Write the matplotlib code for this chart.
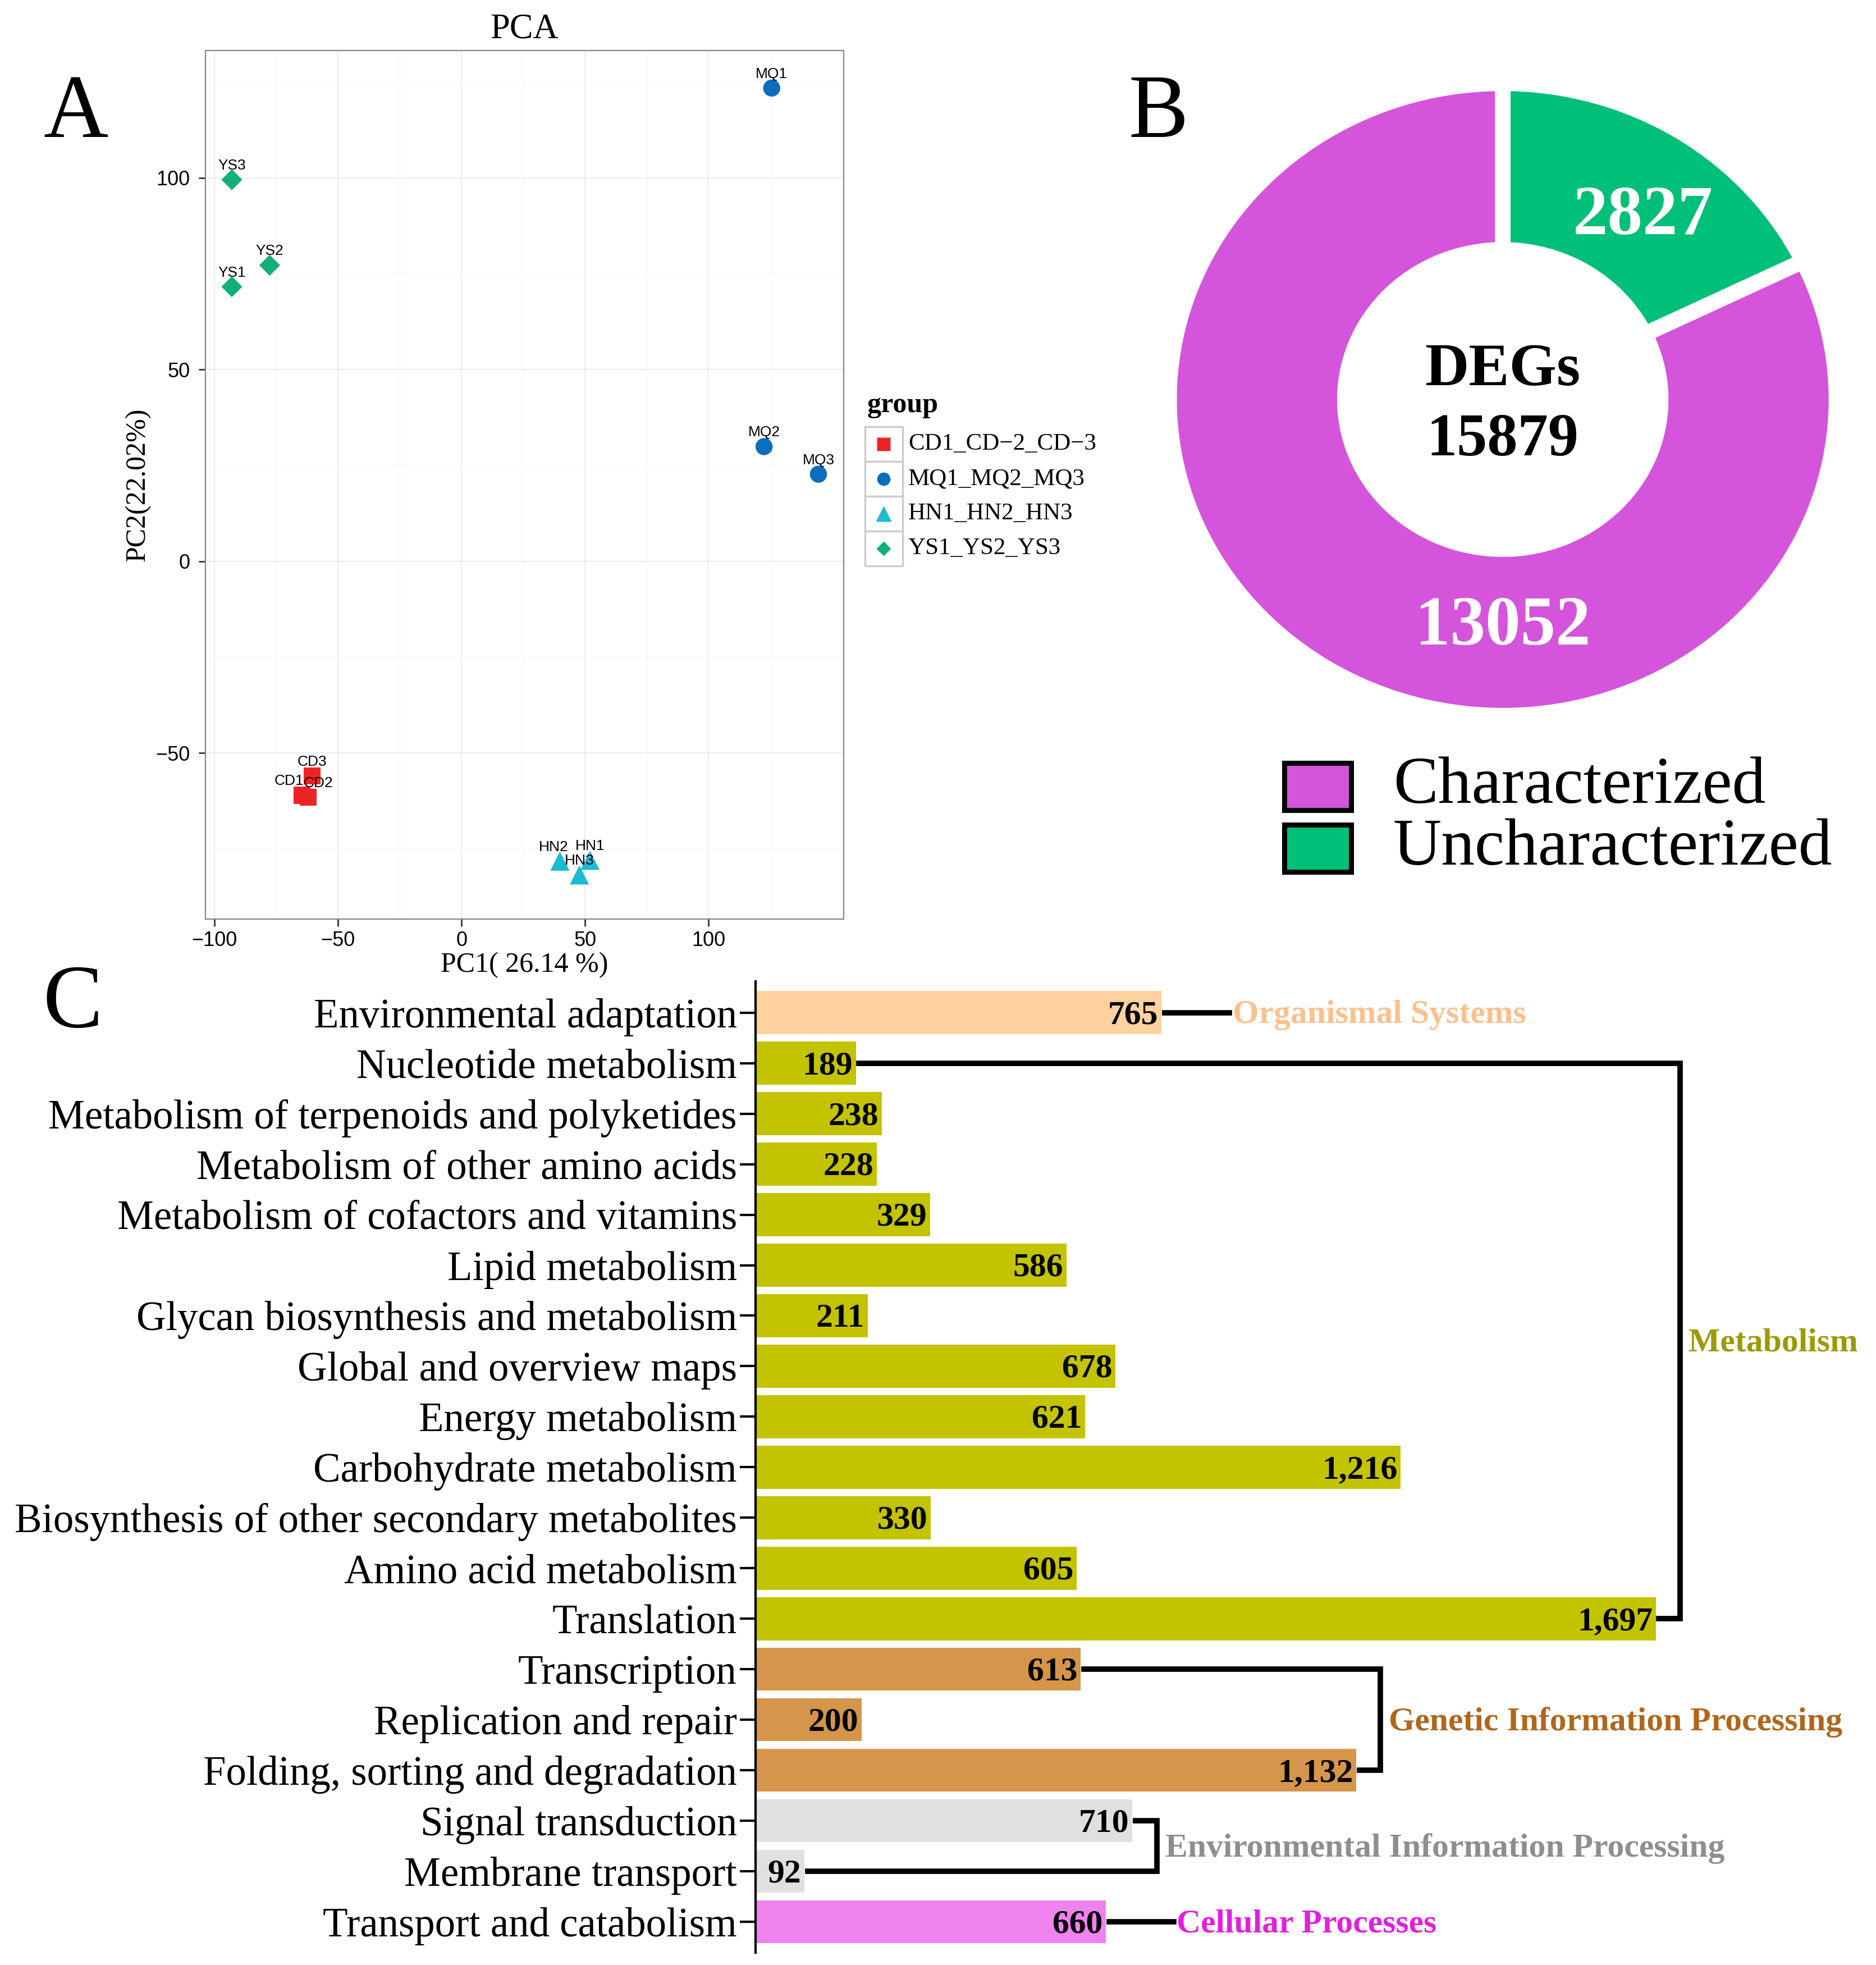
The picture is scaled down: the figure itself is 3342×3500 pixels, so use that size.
import numpy as np
import matplotlib.pyplot as plt
from matplotlib.patches import Rectangle

plt.rcParams['font.family'] = ['Liberation Serif', 'DejaVu Serif']
SANS = ['Liberation Sans', 'DejaVu Sans']

# ---- A: PCA scores
pca_groups = ['CD1_CD\u22122_CD\u22123', 'MQ1_MQ2_MQ3', 'HN1_HN2_HN3', 'YS1_YS2_YS3']
pca_names = [['CD1', 'CD2', 'CD3'], ['MQ1', 'MQ2', 'MQ3'],
             ['HN1', 'HN2', 'HN3'], ['YS1', 'YS2', 'YS3']]
pca_pc1 = [[-64.5, -62.0, -60.5], [125.5, 122.4, 144.4],
           [52.0, 39.8, 47.7], [-92.9, -77.6, -92.9]]
pca_pc2 = [[-61.0, -61.5, -56.0], [123.4, 29.9, 22.7],
           [-78.0, -78.2, -81.8], [71.6, 77.2, 99.5]]
pca_colors = ['#EE2424', '#0A6DBE', '#1ABBD3', '#12AF78']
pca_markers = ['s', 'o', '^', 'D']

# ---- B: DEGs donut
deg_labels = ['Characterized', 'Uncharacterized']
deg_counts = [13052, 2827]
deg_colors = ['#D455DB', '#00BF78']

# ---- C: KEGG classification
kegg_terms = ['Environmental adaptation', 'Nucleotide metabolism',
              'Metabolism of terpenoids and polyketides', 'Metabolism of other amino acids',
              'Metabolism of cofactors and vitamins', 'Lipid metabolism',
              'Glycan biosynthesis and metabolism', 'Global and overview maps',
              'Energy metabolism', 'Carbohydrate metabolism',
              'Biosynthesis of other secondary metabolites', 'Amino acid metabolism',
              'Translation', 'Transcription', 'Replication and repair',
              'Folding, sorting and degradation', 'Signal transduction',
              'Membrane transport', 'Transport and catabolism']
kegg_counts = [765, 189, 238, 228, 329, 586, 211, 678, 621, 1216, 330, 605,
               1697, 613, 200, 1132, 710, 92, 660]
kegg_class = (['Organismal Systems'] + ['Metabolism'] * 12
              + ['Genetic Information Processing'] * 3
              + ['Environmental Information Processing'] * 2
              + ['Cellular Processes'])
class_names = ['Organismal Systems', 'Metabolism', 'Genetic Information Processing',
               'Environmental Information Processing', 'Cellular Processes']
class_bar_colors = ['#FFD19E', '#C3C300', '#D5954A', '#E0E0E0', '#EE82EE']
class_text_colors = ['#FDC08C', '#9C9A00', '#B1661C', '#8E8E8E', '#E21FE0']

fig = plt.figure(figsize=(33.42, 35.0), dpi=100)

# ================= A: PCA =================
ax = fig.add_axes([0.1095, 0.5323, 0.3402, 0.442])
sizes = [480, 480, 600, 360]
nudge = {'CD1': -17, 'CD2': 13, 'HN2': -8}
for g in range(len(pca_groups)):
    ax.scatter(pca_pc1[g], pca_pc2[g], s=sizes[g], marker=pca_markers[g],
               color=pca_colors[g], edgecolors='none', zorder=3)
    for name, x, y in zip(pca_names[g], pca_pc1[g], pca_pc2[g]):
        ax.annotate(name, (x, y), xytext=(nudge.get(name, 0), 18),
                    textcoords='offset points', ha='center', va='center',
                    fontsize=19, family=SANS, zorder=4)
ax.set_xlim(-103.6, 154.6)
ax.set_ylim(-93.3, 133.2)
ax.set_xticks([-100, -50, 0, 50, 100])
ax.set_yticks([-50, 0, 50, 100])
ax.set_xticks([-75, -25, 25, 75, 125], minor=True)
ax.set_yticks([-75, -25, 25, 75, 125], minor=True)
ax.grid(which='major', color='#EDEDED', lw=1.6)
ax.grid(which='minor', color='#F5F5F5', lw=1.0)
ax.set_axisbelow(True)
ax.tick_params(which='minor', length=0)
ax.tick_params(which='major', length=9, width=2, color='#333333', labelsize=26, pad=6)
ax.tick_params(axis='y', which='major', pad=11)
for lab in ax.get_xticklabels() + ax.get_yticklabels():
    lab.set_family(SANS)
for sp in ax.spines.values():
    sp.set_color('#808080')
    sp.set_linewidth(1.5)
ax.set_xlabel('PC1( 26.14 %)', fontsize=36, labelpad=2)
ax.set_ylabel('PC2(22.02%)', fontsize=36, labelpad=6)
ax.set_title('PCA', fontsize=45, pad=16)

# ================= B: donut =================
axd = fig.add_axes([0.6275, 0.6397, 0.3471, 0.314])
wedges, _ = axd.pie(deg_counts[::-1], colors=deg_colors[::-1], startangle=90,
                    counterclock=False, radius=1.025,
                    wedgeprops=dict(width=0.54, edgecolor='white', linewidth=20))
axd.set_aspect('auto')
axd.set_xlim(-1, 1)
axd.set_ylim(-1, 1)
w = wedges[0]
mid = np.deg2rad((w.theta1 + w.theta2) / 2 - 4)
axd.text(0.73 * np.cos(mid), 0.73 * np.sin(mid), str(deg_counts[1]), color='white',
         fontsize=90, fontweight='bold', ha='center', va='center')
axd.text(0, -0.74, str(deg_counts[0]), color='white', fontsize=90,
         fontweight='bold', ha='center', va='center')
axd.text(0, -0.02, 'DEGs\n%d' % sum(deg_counts), color='black', fontsize=78,
         fontweight='bold', ha='center', va='center', linespacing=1.35)

# ================= C: KEGG bars =================
axb = fig.add_axes([0.4028, 0.0063, 0.5972, 0.4943])
yy = np.arange(len(kegg_terms))
bar_cols = [class_bar_colors[class_names.index(c)] for c in kegg_class]
axb.barh(yy, kegg_counts, height=0.85, color=bar_cols)
axb.set_ylim(18.61, -0.62)
axb.set_xlim(0, 2112)
axb.set_yticks(yy)
axb.set_yticklabels(kegg_terms, fontsize=52.5)
axb.tick_params(axis='y', length=20, width=3, pad=4)
axb.set_xticks([])
for s in ['top', 'right', 'bottom']:
    axb.spines[s].set_visible(False)
axb.spines['left'].set_linewidth(3)
for yi, v in zip(yy, kegg_counts):
    axb.text(v - 6, yi + 0.06, f'{v:,}', ha='right', va='center', fontsize=43,
             fontweight='bold')

off = 6
for k, cname in enumerate(class_names):
    rows = [i for i, c in enumerate(kegg_class) if c == cname]
    top, bot = rows[0], rows[-1]
    if top == bot:
        x0 = kegg_counts[top] + off
        x1 = x0 + 122
        axb.plot([x0, x1], [top, top], color='black', lw=7, clip_on=False)
        tx, ty = x1 + 6, top
    else:
        bx = max(kegg_counts[top:bot + 1]) + 46
        axb.plot([kegg_counts[top] + off, bx, bx, kegg_counts[bot] + off],
                 [top, top, bot, bot], color='black', lw=7, clip_on=False,
                 solid_joinstyle='miter')
        tx, ty = bx + 16, (top + bot) / 2
    axb.text(tx, ty + 0.05, cname, color=class_text_colors[k], fontsize=43,
             fontweight='bold', ha='left', va='center')

# ================= overlay: panel letters and legends =================
ov = fig.add_axes([0, 0, 1, 1])
ov.set_xlim(0, 3342)
ov.set_ylim(3500, 0)
ov.axis('off')
for letter, (lx, ly) in zip('ABC', [(135, 205), (2064, 205), (130, 1790)]):
    ov.text(lx, ly, letter, fontsize=115, ha='center', va='center')

# PCA legend
ov.text(1545, 722, 'group', fontsize=36, fontweight='bold', ha='left', va='center')
leg_ms = [17, 17, 20, 13]
for g in range(len(pca_groups)):
    top = 760 + 62 * g
    ov.add_patch(Rectangle((1541, top), 67, 62, facecolor='white',
                           edgecolor='#CCCCCC', lw=2.5))
    ov.plot(1574, top + 31, marker=pca_markers[g], ms=leg_ms[g], color=pca_colors[g],
            mec='none', ls='none')
    ov.text(1618, top + 31, pca_groups[g], fontsize=31, ha='left', va='center')

# donut legend
for i, lab in enumerate(deg_labels):
    top = 1359 + 110 * i
    ov.add_patch(Rectangle((2288, top), 119, 84, facecolor=deg_colors[i],
                           edgecolor='black', lw=6.5))
    ov.text(2482, top + 42, lab, fontsize=86, ha='left', va='center')

fig.savefig('out.png', dpi=100)
